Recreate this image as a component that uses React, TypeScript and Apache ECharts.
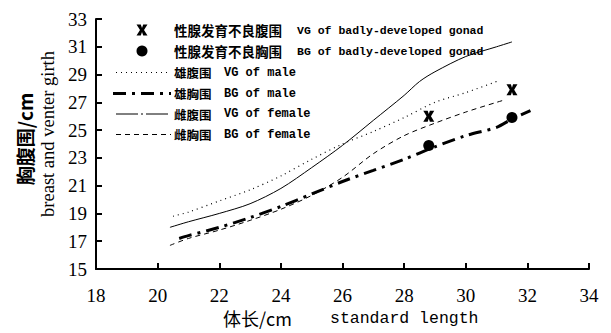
import React, { useEffect, useRef } from "react";
import * as echarts from "echarts";

// ---- data ----
const xTicks = { min: 18, max: 34, interval: 2 };
const yTicks = { min: 15, max: 33, interval: 2 };

const maleVG_x = [20.5, 21, 22, 23, 24, 25, 26, 27, 28, 29, 30, 31];
const maleVG_y = [18.8, 19.1, 19.9, 20.7, 21.7, 22.9, 24.0, 24.9, 25.9, 27.0, 27.7, 28.5];

const maleBG_x = [20.7, 21, 22, 23, 24, 25, 26, 27, 28, 29, 30, 31, 31.5, 32.1];
const maleBG_y = [17.2, 17.4, 18.0, 18.7, 19.5, 20.4, 21.3, 22.1, 22.9, 23.8, 24.6, 25.2, 25.8, 26.4];

const femaleVG_x = [20.4, 21, 22, 23, 24, 25, 26, 27, 28, 28.5, 29, 30, 31, 31.5];
const femaleVG_y = [18.0, 18.4, 19.0, 19.7, 20.8, 22.3, 23.9, 25.7, 27.5, 28.5, 29.2, 30.3, 31.0, 31.35];

const femaleBG_x = [20.4, 21, 22, 23, 24, 25, 26, 27, 28, 29, 30, 31, 31.3];
const femaleBG_y = [16.7, 17.2, 17.8, 18.5, 19.3, 20.3, 21.6, 23.3, 24.6, 25.5, 26.3, 27.0, 27.2];

const badVG_x = [28.8, 31.5];
const badVG_y = [26.0, 27.9];
const badBG_x = [28.8, 31.5];
const badBG_y = [23.9, 25.9];

const legendCN = ["性腺发育不良腹围", "性腺发育不良胸围", "雄腹围", "雄胸围", "雌腹围", "雌胸围"];
const legendEN = [
  "VG of badly-developed gonad",
  "BG of badly-developed gonad",
  "VG of male",
  "BG of male",
  "VG of female",
  "BG of female",
];
const yNameCN = "胸腹围/cm";
const yNameEN = "breast and venter girth";
const xNameCN = "体长/cm";
const xNameEN = "standard length";

const zip = (xs: number[], ys: number[]) => xs.map((x, i) => [x, ys[i]]);

const X_PATH = "path://M0,0H4L5,3L6,0H10L7,5L10,10H6L5,7L4,10H0L3,5Z";

export default function App() {
  const ref = useRef<HTMLDivElement>(null);
  useEffect(() => {
    if (!ref.current) return;
    const chart = echarts.init(ref.current, null, { renderer: "svg" });
    const black = "#000";
    const cnFont = '"Noto Sans CJK SC"';
    const monoFont = '"Liberation Mono", "DejaVu Sans Mono", monospace';
    const serif = '"Liberation Serif", serif';
    const rowsY = [30, 51, 72.5, 93.5, 114, 134.5];

    const legendGraphics: any[] = [];
    const cx = 142, cy = rowsY[0], s = 5.5;
    legendGraphics.push({
      type: "polygon",
      shape: {
        points: [
          [cx - s, cy - s], [cx - 1.2, cy - s], [cx, cy - 2], [cx + 1.2, cy - s], [cx + s, cy - s],
          [cx + 2, cy], [cx + s, cy + s], [cx + 1.2, cy + s], [cx, cy + 2], [cx - 1.2, cy + s],
          [cx - s, cy + s], [cx - 2, cy],
        ],
      },
      style: { fill: black },
    });
    legendGraphics.push({ type: "circle", shape: { cx: 142, cy: rowsY[1], r: 5.5 }, style: { fill: black } });
    const lineStyles = [
      { lineWidth: 1, lineDash: [1, 4] },
      { lineWidth: 3, lineDash: [13, 6, 3, 6] },
      { lineWidth: 1, lineDash: [22, 3, 2, 3] },
      { lineWidth: 1, lineDash: [5, 4] },
    ];
    lineStyles.forEach((ls, i) => {
      legendGraphics.push({
        type: "line",
        shape: { x1: i === 1 ? 113 : 116, y1: rowsY[i + 2], x2: 171, y2: rowsY[i + 2] },
        style: { stroke: black, ...ls },
      });
    });
    legendCN.forEach((t, i) => {
      legendGraphics.push({
        type: "text",
        x: 174,
        y: rowsY[i],
        style: {
          text: t,
          font: `bold ${i < 2 ? 13.5 : 12.5}px ${cnFont}`,
          fill: black,
          verticalAlign: "middle",
          align: "left",
        },
      });
      legendGraphics.push({
        type: "text",
        x: i < 2 ? 297 : 224,
        y: rowsY[i],
        style: {
          text: legendEN[i],
          font: `bold ${i < 2 ? 11.5 : 12}px ${monoFont}`,
          fill: black,
          verticalAlign: "middle",
          align: "left",
        },
      });
    });

    const axisCommon = {
      type: "value" as const,
      axisLine: { show: true, onZero: false, lineStyle: { color: black, width: 2 } },
      axisTick: { show: true, inside: true, length: 6, lineStyle: { color: black, width: 2 } },
      splitLine: { show: false },
    };

    chart.setOption({
      animation: false,
      backgroundColor: "#fff",
      grid: { left: 96, right: 22, top: 19, bottom: 64 },
      xAxis: {
        ...axisCommon,
        ...xTicks,
        axisLabel: { color: black, fontSize: 19, fontFamily: serif, margin: 17 },
      },
      yAxis: {
        ...axisCommon,
        ...yTicks,
        axisLabel: { color: black, fontSize: 19, fontFamily: serif, margin: 9 },
      },
      graphic: [
        ...legendGraphics,
        {
          type: "text",
          x: 24,
          y: 139,
          rotation: Math.PI / 2,
          style: { text: yNameCN, font: `bold 19px ${cnFont}`, fill: black, align: "center", verticalAlign: "middle" },
        },
        {
          type: "text",
          x: 48,
          y: 134,
          rotation: Math.PI / 2,
          style: { text: yNameEN, font: `18.5px ${serif}`, fill: black, align: "center", verticalAlign: "middle" },
        },
        {
          type: "text",
          x: 223,
          y: 318,
          style: { text: xNameCN, font: `18px ${cnFont}`, fill: black, align: "left", verticalAlign: "middle" },
        },
        {
          type: "text",
          x: 330,
          y: 318,
          style: { text: xNameEN, font: `16.5px ${monoFont}`, fill: black, align: "left", verticalAlign: "middle" },
        },
      ],
      series: [
        {
          name: legendEN[2],
          type: "line",
          data: zip(maleVG_x, maleVG_y),
          smooth: 0.3,
          showSymbol: false,
          lineStyle: { color: black, width: 1.2, type: [1, 4] },
        },
        {
          name: legendEN[3],
          type: "line",
          data: zip(maleBG_x, maleBG_y),
          smooth: 0.3,
          showSymbol: false,
          lineStyle: { color: black, width: 3, type: [13, 6, 3, 6] },
        },
        {
          name: legendEN[4],
          type: "line",
          data: zip(femaleVG_x, femaleVG_y),
          smooth: 0.3,
          showSymbol: false,
          lineStyle: { color: black, width: 1 },
        },
        {
          name: legendEN[5],
          type: "line",
          data: zip(femaleBG_x, femaleBG_y),
          smooth: 0.3,
          showSymbol: false,
          lineStyle: { color: black, width: 1, type: [5, 4] },
        },
        {
          name: legendEN[0],
          type: "scatter",
          data: zip(badVG_x, badVG_y),
          symbol: X_PATH,
          symbolSize: 11,
          itemStyle: { color: black, opacity: 1 },
        },
        {
          name: legendEN[1],
          type: "scatter",
          data: zip(badBG_x, badBG_y),
          symbol: "circle",
          symbolSize: 11,
          itemStyle: { color: black, opacity: 1 },
        },
      ],
    });
    return () => chart.dispose();
  }, []);
  return (
    <div
      ref={ref}
      style={{ position: "absolute", left: 0, top: 0, width: 611, height: 333 }}
    />
  );
}
